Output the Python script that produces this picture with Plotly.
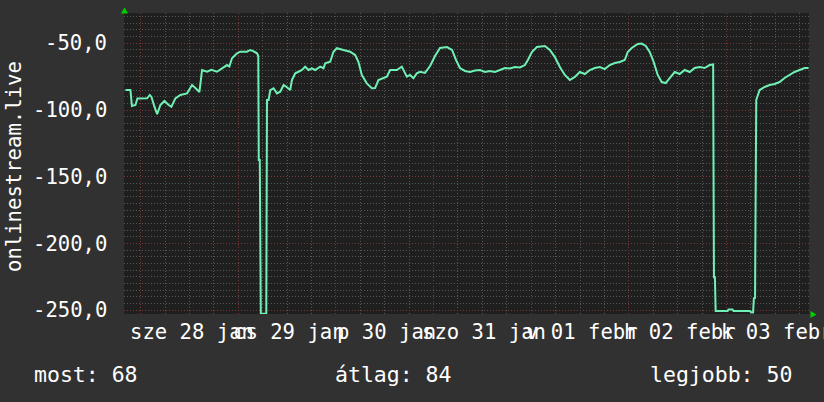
import plotly.graph_objects as go

# ---------------- data ----------------
times = [
    "2026-01-27 20:15", "2026-01-27 21:28", "2026-01-27 21:50", "2026-01-27 22:42", "2026-01-27 23:11",
    "2026-01-28 01:34", "2026-01-28 02:13", "2026-01-28 02:38", "2026-01-28 03:22", "2026-01-28 04:02",
    "2026-01-28 04:50", "2026-01-28 05:49", "2026-01-28 06:52", "2026-01-28 07:32", "2026-01-28 08:31",
    "2026-01-28 09:45", "2026-01-28 11:23", "2026-01-28 12:37", "2026-01-28 13:26", "2026-01-28 14:25",
    "2026-01-28 14:47", "2026-01-28 15:04", "2026-01-28 16:18", "2026-01-28 17:22", "2026-01-28 18:45",
    "2026-01-28 19:59", "2026-01-28 21:13", "2026-01-28 21:47", "2026-01-28 22:26", "2026-01-28 23:40",
    "2026-01-29 00:29", "2026-01-29 02:07", "2026-01-29 02:56", "2026-01-29 03:40", "2026-01-29 04:35",
    "2026-01-29 04:54", "2026-01-29 05:01", "2026-01-29 05:16", "2026-01-29 05:31", "2026-01-29 06:52",
    "2026-01-29 07:02", "2026-01-29 07:26", "2026-01-29 07:51", "2026-01-29 08:39", "2026-01-29 09:29",
    "2026-01-29 10:18", "2026-01-29 11:07", "2026-01-29 11:46", "2026-01-29 12:45", "2026-01-29 13:10",
    "2026-01-29 13:59", "2026-01-29 14:47", "2026-01-29 15:38", "2026-01-29 16:26", "2026-01-29 17:15",
    "2026-01-29 18:05", "2026-01-29 18:53", "2026-01-29 20:07", "2026-01-29 20:56", "2026-01-29 21:21",
    "2026-01-29 22:35", "2026-01-29 23:23", "2026-01-30 00:13", "2026-01-30 01:50", "2026-01-30 03:29",
    "2026-01-30 04:43", "2026-01-30 05:31", "2026-01-30 06:21", "2026-01-30 07:35", "2026-01-30 08:49",
    "2026-01-30 09:37", "2026-01-30 10:26", "2026-01-30 11:20", "2026-01-30 12:30", "2026-01-30 13:19",
    "2026-01-30 14:57", "2026-01-30 16:11", "2026-01-30 16:37", "2026-01-30 17:25", "2026-01-30 18:13",
    "2026-01-30 19:02", "2026-01-30 19:52", "2026-01-30 20:40", "2026-01-30 21:54", "2026-01-30 23:08",
    "2026-01-31 00:21", "2026-01-31 01:35", "2026-01-31 03:18", "2026-01-31 04:32", "2026-01-31 05:31",
    "2026-01-31 06:29", "2026-01-31 07:43", "2026-01-31 08:57", "2026-01-31 10:10", "2026-01-31 11:24",
    "2026-01-31 12:38", "2026-01-31 13:51", "2026-01-31 15:05", "2026-01-31 16:19", "2026-01-31 17:32",
    "2026-01-31 18:46", "2026-01-31 19:59", "2026-01-31 21:13", "2026-01-31 22:27", "2026-01-31 23:11",
    "2026-02-01 00:10", "2026-02-01 01:24", "2026-02-01 03:22", "2026-02-01 04:35", "2026-02-01 05:49",
    "2026-02-01 07:03", "2026-02-01 08:16", "2026-02-01 09:30", "2026-02-01 10:44", "2026-02-01 11:57",
    "2026-02-01 13:11", "2026-02-01 14:25", "2026-02-01 15:38", "2026-02-01 16:52", "2026-02-01 18:05",
    "2026-02-01 19:19", "2026-02-01 20:33", "2026-02-01 21:46", "2026-02-01 23:00", "2026-02-01 23:44",
    "2026-02-02 00:43", "2026-02-02 02:11", "2026-02-02 03:10", "2026-02-02 04:10", "2026-02-02 05:08",
    "2026-02-02 06:07", "2026-02-02 07:06", "2026-02-02 08:05", "2026-02-02 09:04", "2026-02-02 10:03",
    "2026-02-02 11:17", "2026-02-02 12:30", "2026-02-02 13:44", "2026-02-02 14:58", "2026-02-02 16:11",
    "2026-02-02 17:25", "2026-02-02 18:38", "2026-02-02 19:52", "2026-02-02 20:44", "2026-02-02 20:56",
    "2026-02-02 21:10", "2026-02-02 21:21", "2026-02-03 00:18", "2026-02-03 00:30", "2026-02-03 01:30",
    "2026-02-03 01:45", "2026-02-03 05:42", "2026-02-03 06:07", "2026-02-03 06:33", "2026-02-03 06:45",
    "2026-02-03 07:02", "2026-02-03 07:20", "2026-02-03 08:10", "2026-02-03 09:23", "2026-02-03 10:37",
    "2026-02-03 11:50", "2026-02-03 13:04", "2026-02-03 14:18", "2026-02-03 15:31", "2026-02-03 16:45",
    "2026-02-03 17:59", "2026-02-03 19:13", "2026-02-03 20:12",
]
values = [
    -85, -85, -97, -96.2, -91.3,
    -91.2, -88.7, -90.2, -97.5, -103,
    -96.2, -93.2, -96.2, -97.5, -91.2,
    -88.7, -87.5, -81.2, -83.5, -86.5,
    -77.5, -70, -71.3, -69.8, -71.3,
    -68.7, -66.3, -67.4, -61.2, -57.5,
    -56.3, -56.3, -55, -55.8, -57.5,
    -59.5, -137.4, -137.4, -252.5, -252.5,
    -92.5, -92.5, -85, -83.7, -87.5,
    -86.3, -81.2, -82.5, -85, -77.5,
    -72.5, -71.3, -70, -67.5, -70,
    -68.7, -70, -67.5, -68.7, -65,
    -63.8, -56.3, -53.7, -55, -56.3,
    -58.8, -63.8, -73.7, -80, -83.7,
    -83.5, -77.5, -76.4, -75, -70,
    -70, -67.5, -70, -75, -73.7,
    -76.2, -72.5, -71.3, -72.2, -67,
    -59.5, -53.5, -52.8, -55, -62.5,
    -68.5, -70.7, -71.5, -70.4, -70,
    -71.5, -70.7, -71.5, -70, -68.5,
    -68.9, -67.8, -68.1, -66.3, -62.5,
    -56.5, -52.8, -52, -55, -60.3,
    -67.8, -73.7, -77.5, -75.2, -71.5,
    -73, -70, -68.5, -67.8, -69.3,
    -66.3, -64.8, -64, -62.5, -56.5,
    -53.5, -50.5, -50.2, -52, -56.5,
    -64, -73.7, -79, -79.8, -76,
    -71.5, -73, -70, -71.5, -68.5,
    -67.8, -68.5, -66.3, -65.9, -225.3,
    -225.3, -250.5, -250.5, -249.4, -249.4,
    -250.5, -250.5, -251.5, -251.6, -241,
    -240.8, -92.5, -85, -82.7, -81.2,
    -80.5, -79, -76, -73.7, -71.5,
    -70, -68.5, -68.5,
]

day_label_pos = ["2026-01-28 12:00", "2026-01-29 12:00", "2026-01-30 12:00", "2026-01-31 12:00",
                 "2026-02-01 12:00", "2026-02-02 12:00", "2026-02-03 12:00"]
day_labels = ["sze 28 jan", "cs 29 jan", "p 30 jan", "szo 31 jan", "v 01 febr", "h 02 febr", "k 03 febr"]

y_ticks = [-50, -100, -150, -200, -250]
y_tick_labels = ["-50,0", "-100,0", "-150,0", "-200,0", "-250,0"]

y_title = "onlinestream.live"
stats = ["most: 68", "átlag: 84", "legjobb: 50"]

# ---------------- layout helpers ----------------
W, H = 824, 402
L, R, T, B = 124, 15, 13, 88
PW, PH = W - L - R, H - T - B
FONT = "DejaVu Sans Mono"
FS = 20.6
FS_LEG = 21.5


def px_x(px):
    return (px - L) / PW


def px_y(py):
    return (H - B - py) / PH


fig = go.Figure()
fig.add_trace(go.Scatter(x=times, y=values, mode="lines",
                         line=dict(color="#6ff0b4", width=2),
                         hoverinfo="skip", showlegend=False))

dots = "1px,2px"
fig.update_layout(
    width=W, height=H,
    margin=dict(l=L, r=R, t=T, b=B, pad=0),
    paper_bgcolor="#313131",
    plot_bgcolor="#1f1f1f",
    showlegend=False,
    xaxis=dict(
        type="date",
        range=["2026-01-27 19:53", "2026-02-03 20:18"],
        tick0="2026-01-28 00:00", dtick=86400000,
        showticklabels=False, ticks="",
        showgrid=True, gridcolor="#7a3434", griddash=dots, gridwidth=1,
        zeroline=False, showline=False,
        minor=dict(tick0="2026-01-28 00:00", dtick=21600000, showgrid=True,
                   gridcolor="#565656", griddash=dots, gridwidth=1, ticks=""),
    ),
    yaxis=dict(
        range=[-252.77, -27.30],
        tick0=-250, dtick=50,
        showticklabels=False, ticks="",
        showgrid=True, gridcolor="#7a3434", griddash=dots, gridwidth=1,
        zeroline=False, showline=False,
        minor=dict(tick0=-250, dtick=5, showgrid=True,
                   gridcolor="#565656", griddash=dots, gridwidth=1, ticks=""),
    ),
)

ann = []
for pos, lab in zip(day_label_pos, day_labels):
    ann.append(dict(x=pos, xref="x", y=px_y(331.5), yref="paper", text=lab,
                    showarrow=False, xanchor="center", yanchor="middle", xshift=2,
                    font=dict(family=FONT, size=FS, color="#ffffff")))
for v, lab in zip(y_ticks, y_tick_labels):
    ann.append(dict(x=px_x(109), xref="paper", y=v, yref="y", text=lab,
                    showarrow=False, xanchor="right", yanchor="middle",
                    font=dict(family=FONT, size=FS, color="#ffffff")))
ann.append(dict(x=px_x(14), xref="paper", y=px_y(167), yref="paper", text=y_title,
                textangle=-90, showarrow=False, xanchor="center", yanchor="middle",
                font=dict(family=FONT, size=FS, color="#ffffff")))
ann.append(dict(x=px_x(31.5), xref="paper", y=px_y(374), yref="paper", text=stats[0],
                showarrow=False, xanchor="left", yanchor="middle",
                font=dict(family=FONT, size=FS_LEG, color="#ffffff")))
ann.append(dict(x=px_x(333), xref="paper", y=px_y(374), yref="paper", text=stats[1],
                showarrow=False, xanchor="left", yanchor="middle",
                font=dict(family=FONT, size=FS_LEG, color="#ffffff")))
ann.append(dict(x=px_x(794), xref="paper", y=px_y(374), yref="paper", text=stats[2],
                showarrow=False, xanchor="right", yanchor="middle",
                font=dict(family=FONT, size=FS_LEG, color="#ffffff")))
fig.update_layout(annotations=ann)

# axis arrows (decoration)
def tri(p):
    return "M " + " L ".join(f"{px_x(a):.5f},{px_y(b):.5f}" for a, b in p) + " Z"

fig.add_shape(type="path", xref="paper", yref="paper",
              path=tri([(124.5, 7.5), (121.0, 13.5), (128.0, 13.5)]),
              fillcolor="#00d000", line=dict(width=0))
fig.add_shape(type="path", xref="paper", yref="paper",
              path=tri([(816.5, 314.5), (810.5, 311.0), (810.5, 318.0)]),
              fillcolor="#00d000", line=dict(width=0))

fig.write_html("out.html",
               config={"displayModeBar": False},
               post_script="document.body.style.margin='0';document.body.style.padding='0';"
                           "document.body.style.overflow='hidden';"
                           "document.body.style.background='#313131';")
